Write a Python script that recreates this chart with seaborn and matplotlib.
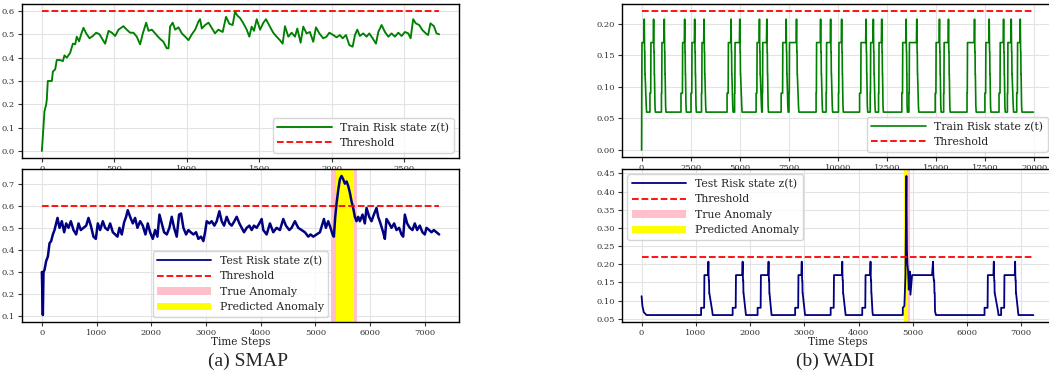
import matplotlib
matplotlib.use("Agg")
import matplotlib.pyplot as plt
import seaborn as sns

# ---------------- SMAP ----------------
smap_train_t = [0, 11, 18, 30, 34, 41, 57, 69, 76, 92, 103, 126, 145, 156, 172, 195, 214, 230, 241, 257,
                271, 287, 306, 329, 352, 375, 398, 414, 437, 460, 483, 506, 529, 563, 586, 609, 632, 655,
                678, 697, 720, 736, 759, 782, 812, 839, 862, 874, 885, 903, 920, 943, 966, 989, 1012, 1035,
                1058, 1081, 1092, 1104, 1127, 1150, 1172, 1195, 1218, 1248, 1271, 1294, 1317, 1333, 1350,
                1368, 1391, 1414, 1432, 1448, 1464, 1483, 1506, 1529, 1547, 1574, 1597, 1620, 1643, 1662,
                1678, 1701, 1724, 1747, 1763, 1786, 1804, 1827, 1850, 1873, 1892, 1915, 1942, 1965, 1984,
                2011, 2034, 2057, 2076, 2099, 2122, 2145, 2161, 2177, 2195, 2218, 2241, 2260, 2283, 2306,
                2322, 2345, 2368, 2391, 2414, 2437, 2460, 2483, 2506, 2529, 2545, 2563, 2581, 2604, 2627,
                2650, 2666, 2682, 2706, 2724, 2742]
smap_train_z = [0.0, 0.10, 0.17, 0.20, 0.22, 0.30, 0.30, 0.30, 0.34, 0.35, 0.39, 0.39, 0.385, 0.41, 0.40,
                0.42, 0.46, 0.457, 0.49, 0.47, 0.50, 0.528, 0.504, 0.483, 0.493, 0.507, 0.50, 0.483, 0.46,
                0.515, 0.507, 0.493, 0.52, 0.535, 0.52, 0.507, 0.507, 0.49, 0.457, 0.504, 0.55, 0.515, 0.52,
                0.504, 0.483, 0.468, 0.44, 0.44, 0.533, 0.55, 0.52, 0.53, 0.504, 0.49, 0.475, 0.50, 0.52,
                0.555, 0.565, 0.525, 0.54, 0.55, 0.528, 0.504, 0.52, 0.51, 0.575, 0.545, 0.54, 0.597, 0.58,
                0.57, 0.547, 0.52, 0.49, 0.533, 0.515, 0.565, 0.52, 0.55, 0.565, 0.533, 0.507, 0.49, 0.475,
                0.46, 0.535, 0.49, 0.507, 0.49, 0.525, 0.464, 0.533, 0.504, 0.51, 0.468, 0.53, 0.504, 0.483,
                0.49, 0.507, 0.497, 0.487, 0.497, 0.483, 0.497, 0.454, 0.447, 0.497, 0.52, 0.493, 0.504,
                0.49, 0.504, 0.483, 0.46, 0.51, 0.54, 0.51, 0.49, 0.504, 0.49, 0.507, 0.493, 0.51, 0.504,
                0.483, 0.565, 0.547, 0.54, 0.518, 0.504, 0.497, 0.547, 0.535, 0.504, 0.50]

smap_test_t = [0, 18, 30, 49, 79, 110, 140, 170, 201, 231, 262, 286, 323, 365, 408, 444, 487, 530, 578,
               627, 670, 712, 761, 810, 852, 895, 943, 986, 1023, 1065, 1114, 1157, 1205, 1248, 1297, 1339,
               1382, 1418, 1461, 1503, 1540, 1570, 1613, 1662, 1704, 1747, 1796, 1844, 1893, 1936, 1978,
               2027, 2070, 2112, 2149, 2191, 2234, 2283, 2331, 2374, 2417, 2465, 2508, 2544, 2587, 2636,
               2678, 2721, 2770, 2818, 2861, 2909, 2952, 2983, 3013, 3062, 3104, 3153, 3196, 3244, 3287,
               3330, 3378, 3427, 3470, 3518, 3561, 3610, 3652, 3695, 3744, 3792, 3835, 3877, 3926, 3975,
               4017, 4047, 4108, 4169, 4229, 4290, 4351, 4412, 4461, 4522, 4564, 4625, 4686, 4747, 4808,
               4869, 4911, 4960, 5021, 5082, 5130, 5155, 5191, 5234, 5276, 5313, 5337, 5362, 5386, 5416,
               5447, 5477, 5508, 5538, 5569, 5599, 5629, 5660, 5690, 5721, 5751, 5782, 5812, 5861, 5903,
               5934, 5983, 6025, 6068, 6116, 6147, 6189, 6238, 6269, 6299, 6348, 6390, 6439, 6482, 6530,
               6573, 6604, 6634, 6676, 6725, 6774, 6816, 6859, 6908, 6956, 6999, 7030, 7078, 7121, 7164,
               7212, 7261]
smap_test_z = [0.30, 0.105, 0.30, 0.31, 0.35, 0.37, 0.43, 0.44, 0.47, 0.49, 0.52, 0.545, 0.50, 0.53, 0.48,
               0.52, 0.50, 0.53, 0.49, 0.47, 0.52, 0.49, 0.50, 0.51, 0.545, 0.51, 0.46, 0.45, 0.52, 0.49,
               0.53, 0.50, 0.49, 0.52, 0.48, 0.47, 0.46, 0.50, 0.47, 0.525, 0.55, 0.58, 0.55, 0.52, 0.545,
               0.50, 0.53, 0.51, 0.47, 0.52, 0.48, 0.45, 0.49, 0.46, 0.56, 0.52, 0.48, 0.47, 0.50, 0.55,
               0.50, 0.46, 0.56, 0.565, 0.50, 0.47, 0.49, 0.48, 0.47, 0.48, 0.45, 0.46, 0.44, 0.48, 0.53,
               0.52, 0.53, 0.51, 0.53, 0.575, 0.53, 0.51, 0.55, 0.52, 0.51, 0.53, 0.55, 0.52, 0.50, 0.48,
               0.50, 0.51, 0.49, 0.51, 0.50, 0.52, 0.54, 0.49, 0.47, 0.52, 0.48, 0.50, 0.49, 0.54, 0.51,
               0.49, 0.50, 0.53, 0.50, 0.49, 0.48, 0.46, 0.47, 0.46, 0.47, 0.48, 0.52, 0.54, 0.50, 0.53,
               0.50, 0.47, 0.46, 0.55, 0.61, 0.67, 0.72, 0.735, 0.72, 0.70, 0.71, 0.69, 0.66, 0.62, 0.59,
               0.55, 0.53, 0.55, 0.53, 0.56, 0.52, 0.59, 0.55, 0.53, 0.56, 0.59, 0.55, 0.52, 0.48, 0.45,
               0.54, 0.52, 0.50, 0.52, 0.49, 0.50, 0.47, 0.46, 0.56, 0.52, 0.50, 0.49, 0.52, 0.49, 0.51,
               0.48, 0.47, 0.50, 0.49, 0.48, 0.49, 0.48, 0.47]

smap_thr = 0.6
smap_true_anom = (5283, 5752)
smap_pred_anom = (5374, 5698)

# ---------------- WADI (pulse times) ----------------
wadi_thr = 0.22
# levels: baseline, pre-step, plateau, spike
wadi_levels = (0.06, 0.09, 0.17, 0.207)
wadi_test_levels = (0.06, 0.08, 0.17, 0.207)

wadi_train_step = [5, 425, 1010, 2006, 2516, 3050, 4352, 4735, 5831, 6145, 7106, 7505, 8885, 9395,
                   10025, 11100, 11640, 12065, 13250, 13610, 14950, 15380, 16570, 17480, 18200,
                   18625, 19100]
wadi_train_rise = [20, 476, 1037, 2091, 2567, 3077, 4420, 4760, 5882, 6171, 7191, 7531, 8911, 9421,
                   10050, 11172, 11665, 12090, 13297, 13637, 14997, 15405, 16595, 17530, 18261,
                   18652, 19145]
wadi_train_peak = [136, 612, 1156, 2193, 2703, 3179, 4556, 4998, 6001, 6375, 7361, 7888, 9115, 9625,
                   10186, 11427, 11801, 12226, 13467, 14011, 15167, 15626, 16952, 17700, 18431,
                   18822, 19281]
wadi_train_end = [255, 700, 1241, 2278, 2788, 3281, 4658, 5117, 6120, 6460, 7463, 8007, 9217, 9727,
                  10271, 11512, 11903, 12311, 13535, 14113, 15252, 15711, 17037, 17785, 18516,
                  18941, 19366]
wadi_train_last = 19950

wadi_test_head_t = [0, 15, 40, 90]
wadi_test_head_z = [0.112, 0.085, 0.068, 0.06]
wadi_test_step = [1097, 1679, 2139, 2831, 3486, 4068, 6323, 6629]
wadi_test_rise = [1158, 1740, 2200, 2892, 3547, 4129, 6384, 6690]
wadi_test_peak = [1232, 1863, 2341, 2953, 3700, 4221, 6494, 6887]
wadi_test_end = [1311, 1924, 2396, 3014, 3762, 4264, 6580, 6948]
wadi_anom_t = [4816, 4816, 4845, 4856, 4865, 4872, 4883, 4892, 4901, 4914, 4926, 4944, 4957, 4987,
               5355, 5373, 5380, 5388, 5395, 5400, 5405, 5410, 5428]
wadi_anom_z = [0.06, 0.08, 0.085, 0.13, 0.17, 0.29, 0.443, 0.24, 0.20, 0.18, 0.13, 0.18, 0.116, 0.17,
               0.17, 0.207, 0.17, 0.155, 0.155, 0.12, 0.12, 0.07, 0.06]
wadi_test_last = 7224

wadi_true_anom = (4842, 4950)
wadi_pred_anom = (4846, 4912)


def pulse_series(head_t, head_z, steps, rises, peaks, ends, levels, d, last, extra_t=(), extra_z=()):
    # turn the read pulse times into polyline vertices
    base, step, plat, top = levels
    segs = []
    for s, r, p, e in zip(steps, rises, peaks, ends):
        segs.append(([s, s, r - 0.2 * d, r, p - 0.3 * d, p, p + 0.15 * d, p + 0.3 * d, p + 0.45 * d,
                      p + 0.6 * d, p + 0.7 * d, e - 0.3 * d, e],
                     [base, step, step, plat, plat, top, plat, 0.155, 0.155, 0.12, 0.12, base + 0.01, base]))
    if len(extra_t):
        segs.append((list(extra_t), list(extra_z)))
    segs.sort(key=lambda sg: sg[0][0])
    t, z = list(head_t), list(head_z)
    for st, sz in segs:
        t += st
        z += sz
    t.append(last)
    z.append(base)
    return t, z


wadi_train_t, wadi_train_z = pulse_series([0], [0.0], wadi_train_step, wadi_train_rise, wadi_train_peak,
                                          wadi_train_end, wadi_levels, 60, wadi_train_last)
wadi_test_t, wadi_test_z = pulse_series(wadi_test_head_t, wadi_test_head_z, wadi_test_step, wadi_test_rise,
                                        wadi_test_peak, wadi_test_end, wadi_test_levels, 25, wadi_test_last,
                                        wadi_anom_t, wadi_anom_z)

# ---------------- style ----------------
sns.set_theme(style="whitegrid")
plt.rcParams['font.family'] = ['DejaVu Serif']
plt.rcParams.update({
    'axes.edgecolor': 'black', 'axes.linewidth': 1.0,
    'grid.color': '#e3e3e3', 'grid.linewidth': 0.8,
    'xtick.bottom': True, 'ytick.left': True,
    'xtick.major.size': 3, 'ytick.major.size': 3,
    'xtick.major.width': 0.8, 'ytick.major.width': 0.8,
    'xtick.color': '.2', 'ytick.color': '.2',
    'xtick.labelsize': 6, 'ytick.labelsize': 6,
    'xtick.major.pad': 2, 'ytick.major.pad': 2,
})

W, H = 1049, 381
fig = plt.figure(figsize=(W / 100, H / 100), dpi=100)


def box(x0, y0, x1, y1):
    return [x0 / W, 1 - y1 / H, (x1 - x0) / W, (y1 - y0) / H]


ax1 = fig.add_axes(box(22, 4, 459, 158))
ax2 = fig.add_axes(box(22, 169, 459, 322))
ax3 = fig.add_axes(box(622, 4, 1053, 157))
ax4 = fig.add_axes(box(622, 169, 1053, 322))

leg_kw = dict(fontsize=7.8, handlelength=5, framealpha=0.8, edgecolor='#cccccc', fancybox=True)


def train_panel(ax, t, z, thr, lw):
    sns.lineplot(x=t, y=z, ax=ax, color='green', lw=lw, label='Train Risk state z(t)',
                 estimator=None, sort=False)
    sns.lineplot(x=[0, t[-1]], y=[thr, thr], ax=ax, color='red', lw=1.3, linestyle='--',
                 label='Threshold', estimator=None, sort=False)
    ax.set_xlabel('')
    ax.set_ylabel('')
    ax.legend(loc='lower right', **leg_kw)


def test_panel(ax, t, z, thr, true_anom, pred_anom, loc, lw):
    sns.lineplot(x=t, y=z, ax=ax, color='navy', lw=lw, label='Test Risk state z(t)',
                 estimator=None, sort=False)
    sns.lineplot(x=[0, t[-1]], y=[thr, thr], ax=ax, color='red', lw=1.3, linestyle='--',
                 label='Threshold', estimator=None, sort=False)
    ax.axvspan(*true_anom, color='pink', lw=0, label='True Anomaly')
    ax.axvspan(*pred_anom, color='yellow', lw=0, label='Predicted Anomaly')
    ax.set_ylabel('')
    ax.set_xlabel('Time Steps', fontsize=7.6, labelpad=0)
    leg = ax.legend(loc=loc, **leg_kw)
    leg.get_lines()[0].set_linewidth(1.3)


train_panel(ax1, smap_train_t, smap_train_z, smap_thr, 1.35)
test_panel(ax2, smap_test_t, smap_test_z, smap_thr, smap_true_anom, smap_pred_anom, 'lower center', 1.8)
train_panel(ax3, wadi_train_t, wadi_train_z, wadi_thr, 1.2)
test_panel(ax4, wadi_test_t, wadi_test_z, wadi_thr, wadi_true_anom, wadi_pred_anom, 'upper left', 1.3)

for ax in (ax1, ax2, ax3, ax4):
    for sp in ax.spines.values():
        sp.set_color('black')
        sp.set_linewidth(1.0)

fig.text(248 / W, 1 - 361 / H, '(a) SMAP', ha='center', va='center', fontsize=14,
         family=['Liberation Serif', 'DejaVu Serif'])
fig.text(835 / W, 1 - 361 / H, '(b) WADI', ha='center', va='center', fontsize=14,
         family=['Liberation Serif', 'DejaVu Serif'])

fig.savefig('out.png', dpi=100)
